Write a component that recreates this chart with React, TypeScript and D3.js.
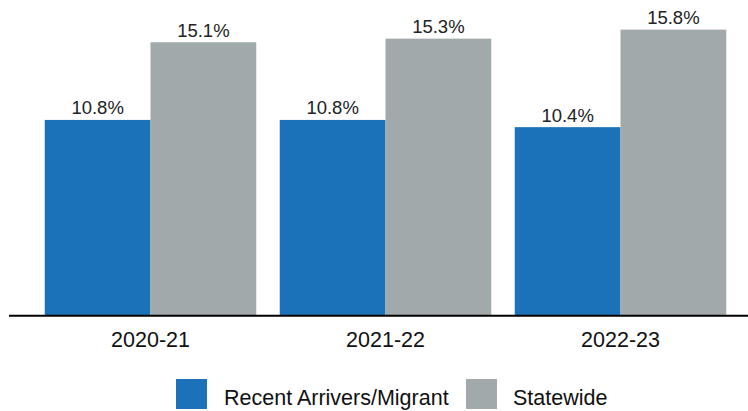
import React from "react";
import * as d3 from "d3";

const categories = ["2020-21", "2021-22", "2022-23"];
const seriesNames = ["Recent Arrivers/Migrant", "Statewide"];
const migrantValues = [10.8, 10.8, 10.4];
const statewideValues = [15.1, 15.3, 15.8];
const colors = ["#1b72b8", "#a2a9aa"];

const W = 748;
const H = 411;

export default function App() {
  const x = d3.scaleBand<string>().domain(categories).range([33, 738]).paddingInner(0.1).paddingOuter(0.05);
  const xi = d3.scaleBand<string>().domain(seriesNames).range([0, x.bandwidth()]).padding(0);
  const y = d3.scaleLinear().domain([0, 16]).range([315, 26]);
  const series = [migrantValues, statewideValues];
  const font = "'Liberation Sans', Arial, sans-serif";

  return (
    <svg width={W} height={H} style={{ position: "absolute", left: 0, top: 0, background: "#fff" }} fontFamily={font}>
      {categories.map((c, ci) => (
        <g key={c} transform={`translate(${x(c)},0)`}>
          {seriesNames.map((s, si) => {
            const v = series[si][ci];
            const bx = xi(s)!;
            return (
              <g key={s}>
                <rect x={bx} y={y(v)} width={xi.bandwidth()} height={y(0) - y(v)} fill={colors[si]} />
                <text x={bx + xi.bandwidth() / 2} y={y(v) - 5.5} textAnchor="middle" fontSize={18.5} fill="#222">
                  {v.toFixed(1)}%
                </text>
              </g>
            );
          })}
          <text x={x.bandwidth() / 2} y={347} textAnchor="middle" fontSize={21.5} fill="#111">
            {c}
          </text>
        </g>
      ))}
      <line x1={9} x2={748} y1={315.8} y2={315.8} stroke="#000" strokeWidth={2} />
      <g>
        <rect x={176} y={379} width={31} height={30} fill={colors[0]} />
        <text x={224} y={405} fontSize={21.5} fill="#111">{seriesNames[0]}</text>
        <rect x={466} y={379} width={31} height={30} fill={colors[1]} />
        <text x={513} y={405} fontSize={21.5} fill="#111">{seriesNames[1]}</text>
      </g>
    </svg>
  );
}
